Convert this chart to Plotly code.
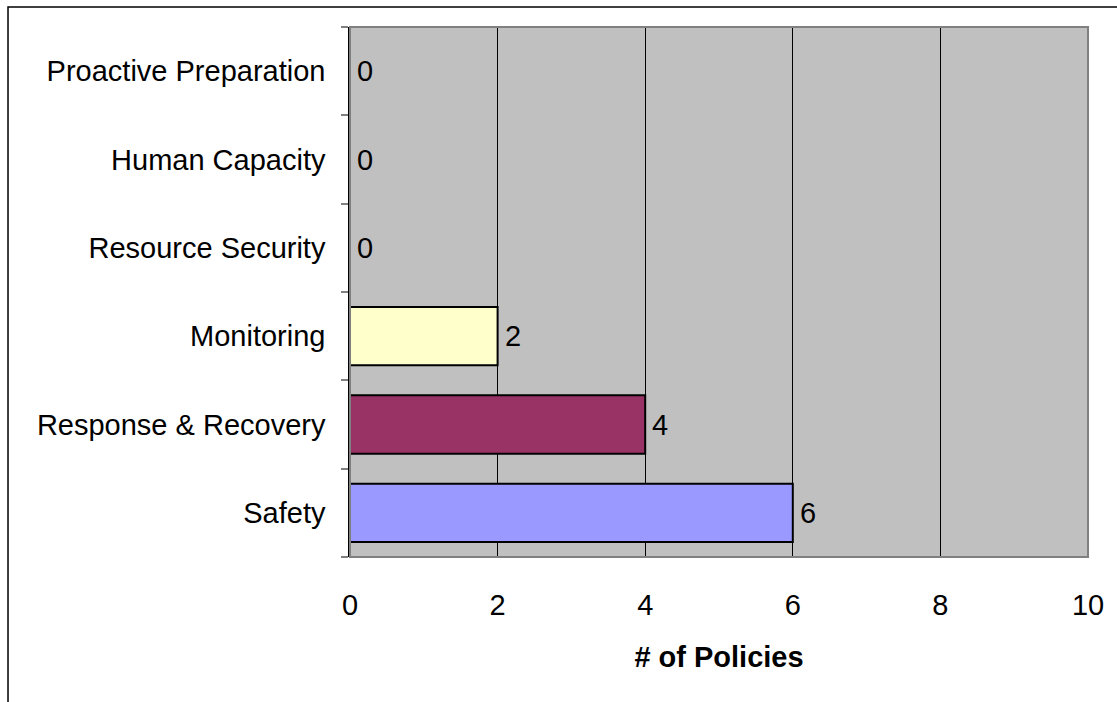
import plotly.graph_objects as go

# Policy counts per category (bottom to top)
categories = ["Safety", "Response & Recovery", "Monitoring",
              "Resource Security", "Human Capacity", "Proactive Preparation"]
policies = [6, 4, 2, 0, 0, 0]
bar_colors = ["#9999FF", "#993366", "#FFFFCC", "#C0C0C0", "#C0C0C0", "#C0C0C0"]
x_ticks = [0, 2, 4, 6, 8, 10]

FONT = "Liberation Sans, Arial, sans-serif"
SIZE = 29

fig = go.Figure(go.Bar(
    x=policies,
    y=categories,
    orientation="h",
    width=0.66,
    marker=dict(color=bar_colors, line=dict(color="black", width=2)),
    cliponaxis=False,
))

# value labels just past the end of each bar
for cat, val in zip(categories, policies):
    fig.add_annotation(
        x=val, y=cat, text=str(val), showarrow=False,
        xanchor="left", xshift=5,
        font=dict(family=FONT, size=SIZE, color="black"),
    )

fig.update_layout(
    width=1117,
    height=702,
    margin=dict(l=350, r=29, t=27, b=145),
    paper_bgcolor="white",
    plot_bgcolor="#C0C0C0",
    showlegend=False,
    font=dict(family=FONT, size=SIZE, color="black"),
    xaxis=dict(
        range=[0, 10],
        tickvals=x_ticks,
        showgrid=True,
        gridcolor="black",
        gridwidth=1,
        zeroline=False,
        ticks="",
        tickfont=dict(size=SIZE),
        ticklabelstandoff=28,
        title=dict(text="<b># of Policies</b>", font=dict(size=SIZE), standoff=26),
        showline=False,
    ),
    yaxis=dict(
        categoryorder="array",
        categoryarray=categories,
        tickson="boundaries",
        ticks="outside",
        ticklen=7,
        tickcolor="#808080",
        tickwidth=1.5,
        ticklabelstandoff=17,
        tickfont=dict(size=SIZE),
        showline=True,
        linecolor="black",
        linewidth=1.5,
        showgrid=False,
    ),
    shapes=[
        # plot area frame
        dict(type="rect", xref="paper", yref="paper", x0=0, x1=1, y0=0, y1=1,
             line=dict(color="#808080", width=2), layer="above"),
        # outer chart border
        dict(type="rect", xref="paper", yref="paper", x0=-0.4634, x1=1.05,
             y0=-0.3, y1=1.0377, line=dict(color="black", width=1.5)),
    ],
)

fig.write_html("out.html")
